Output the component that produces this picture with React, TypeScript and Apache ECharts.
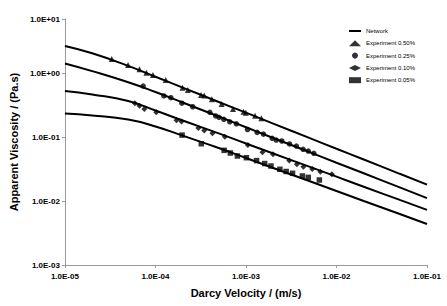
import React, { useEffect, useRef } from "react";
import * as echarts from "echarts";

// Network model curves (Darcy velocity m/s, apparent viscosity Pa.s)
const netVel = [1e-5, 2e-5, 5e-5, 1e-4, 2e-4, 5e-4, 1e-3, 2e-3, 5e-3, 1e-2, 2e-2, 5e-2, 1e-1];
const net050 = [2.64, 2.03, 1.29, 0.873, 0.592, 0.353, 0.24, 0.162, 0.0968, 0.0656, 0.0445, 0.0266, 0.018];
const net025 = [1.41, 1.07, 0.716, 0.505, 0.346, 0.209, 0.142, 0.0964, 0.0583, 0.0396, 0.0271, 0.0163, 0.0111];
const net010 = [0.524, 0.461, 0.365, 0.259, 0.181, 0.114, 0.0791, 0.0552, 0.0344, 0.024, 0.0167, 0.0104, 0.00726];
const net005 = [0.233, 0.217, 0.187, 0.146, 0.105, 0.0673, 0.047, 0.0328, 0.0205, 0.0143, 0.01, 0.00627, 0.00437];

// Experiments
const exp050Vel = [3.29e-5, 4.98e-5, 6.67e-5, 7.94e-5, 9.38e-5, 1.3e-4, 1.99e-4, 2.28e-4, 3.19e-4, 3.46e-4, 4.2e-4, 5.38e-4, 7.19e-4, 9.4e-4, 9.96e-4, 1.26e-3, 1.48e-3];
const exp050Mu = [1.66, 1.33, 1.14, 1.01, 0.931, 0.778, 0.589, 0.542, 0.453, 0.445, 0.388, 0.328, 0.274, 0.248, 0.24, 0.215, 0.196];

const exp025Vel = [7.31e-5, 1.24e-4, 1.48e-4, 1.96e-4, 2.58e-4, 3.99e-4, 4.63e-4, 5.04e-4, 5.7e-4, 6.62e-4, 7.83e-4, 1.04e-3, 1.33e-3, 1.56e-3, 1.95e-3, 2.16e-3, 2.49e-3, 3.03e-3, 3.61e-3, 4.28e-3, 4.88e-3, 5.62e-3];
const exp025Mu = [0.626, 0.438, 0.411, 0.337, 0.297, 0.243, 0.213, 0.203, 0.189, 0.173, 0.161, 0.131, 0.118, 0.111, 0.0955, 0.0897, 0.0866, 0.0778, 0.0723, 0.0643, 0.0604, 0.0556];

const exp010Vel = [5.93e-5, 6.67e-5, 7.55e-5, 1.02e-4, 1.71e-4, 1.94e-4, 2.98e-4, 3.46e-4, 4.26e-4, 5.85e-4, 1.05e-3, 1.52e-3, 1.99e-3, 3.01e-3, 3.65e-3, 4.31e-3, 5.4e-3, 6.64e-3, 8.89e-3];
const exp010Mu = [0.337, 0.308, 0.274, 0.243, 0.182, 0.175, 0.138, 0.126, 0.114, 0.101, 0.075, 0.0577, 0.0537, 0.043, 0.0374, 0.0344, 0.0316, 0.0287, 0.0261];

const exp005Vel = [1.97e-4, 3.21e-4, 5.74e-4, 6.72e-4, 8.04e-4, 1.01e-3, 1.31e-3, 1.61e-3, 1.89e-3, 2.37e-3, 2.78e-3, 3.27e-3, 4.2e-3, 4.88e-3, 6.47e-3];
const exp005Mu = [0.107, 0.0785, 0.0619, 0.0562, 0.0505, 0.0475, 0.0428, 0.0385, 0.0352, 0.0313, 0.0289, 0.0271, 0.0246, 0.0234, 0.0213];

const legendNames = ["Network", "Experiment 0.50%", "Experiment 0.25%", "Experiment 0.10%", "Experiment 0.05%"];

// axis extents
const xMin = 1e-5;
const xMax = 1e-1;
const yMin = 1e-3;
const yMax = 6.98; // top of the drawn value axis, labelled 1.0E+01 in the source figure

const FONT = "'Liberation Sans', Arial, sans-serif";

const fmt = (v: number) => {
  const e = Math.round(Math.log10(v));
  const sign = e < 0 ? "-" : "+";
  return "1.0E" + sign + String(Math.abs(e)).padStart(2, "0");
};

const zip = (a: number[], b: number[]) => a.map((x, i) => [x, b[i]]);

export default function App() {
  const ref = useRef<HTMLDivElement>(null);
  useEffect(() => {
    if (!ref.current) return;
    const chart = echarts.init(ref.current, null, { renderer: "svg" });
    const axisCommon = {
      axisLine: { lineStyle: { color: "#9a9a9a", width: 1 } },
      axisTick: { show: true, length: 3, lineStyle: { color: "#9a9a9a" } },
      minorTick: { show: false },
      splitLine: { show: false },
      nameTextStyle: { fontFamily: FONT, fontWeight: "bold", fontSize: 11, color: "#000" },
    };
    const netLine = (data: number[]) => ({
      name: "Network",
      type: "line",
      smooth: true,
      symbol: "none",
      data: zip(netVel, data),
      lineStyle: { color: "#000", width: 2 },
      itemStyle: { color: "#000" },
      z: 2,
    });
    const scat = (name: string, sym: string, size: number, v: number[], m: number[]) => ({
      name,
      type: "scatter",
      symbol: sym,
      symbolSize: size,
      data: zip(v, m),
      itemStyle: { color: "#000" },
      z: 3,
    });
    chart.setOption({
      animation: false,
      backgroundColor: "#fff",
      grid: { left: 58, right: 20, top: 19, bottom: 41, containLabel: false },
      legend: {
        data: [
          { name: "Network", icon: "path://M0,0 H14 V2.4 H0 Z" },
          ...legendNames.slice(1).map((n) => ({ name: n })),
        ],
        orient: "vertical",
        left: 344,
        top: 23,
        itemWidth: 12,
        itemHeight: 6,
        itemGap: 6.3,
        textStyle: { fontFamily: FONT, fontSize: 6, color: "#000" },
      },
      xAxis: {
        type: "log",
        logBase: 10,
        min: xMin,
        max: xMax,
        name: "Darcy Velocity / (m/s)",
        nameLocation: "middle",
        nameGap: 22,
        ...axisCommon,
        axisLabel: { formatter: fmt, fontFamily: FONT, fontWeight: "bold", fontSize: 8, color: "#000", margin: 7 },
      },
      yAxis: {
        type: "log",
        logBase: 10,
        min: yMin,
        max: yMax,
        name: "Apparent Viscosity / (Pa.s)",
        nameLocation: "middle",
        nameGap: 43,
        ...axisCommon,
        axisLabel: {
          formatter: fmt,
          showMaxLabel: true,
          showMinLabel: true,
          fontFamily: FONT,
          fontWeight: "bold",
          fontSize: 8,
          color: "#000",
          margin: 5,
        },
      },
      series: [
        netLine(net050),
        netLine(net025),
        netLine(net010),
        netLine(net005),
        scat("Experiment 0.50%", "triangle", 6, exp050Vel, exp050Mu),
        scat("Experiment 0.25%", "circle", 5.5, exp025Vel, exp025Mu),
        scat("Experiment 0.10%", "diamond", 6, exp010Vel, exp010Mu),
        scat("Experiment 0.05%", "rect", 5.5, exp005Vel, exp005Mu),
      ],
    });
    return () => chart.dispose();
  }, []);
  return <div ref={ref} style={{ position: "fixed", left: 0, top: 0, width: 447, height: 306 }} />;
}
